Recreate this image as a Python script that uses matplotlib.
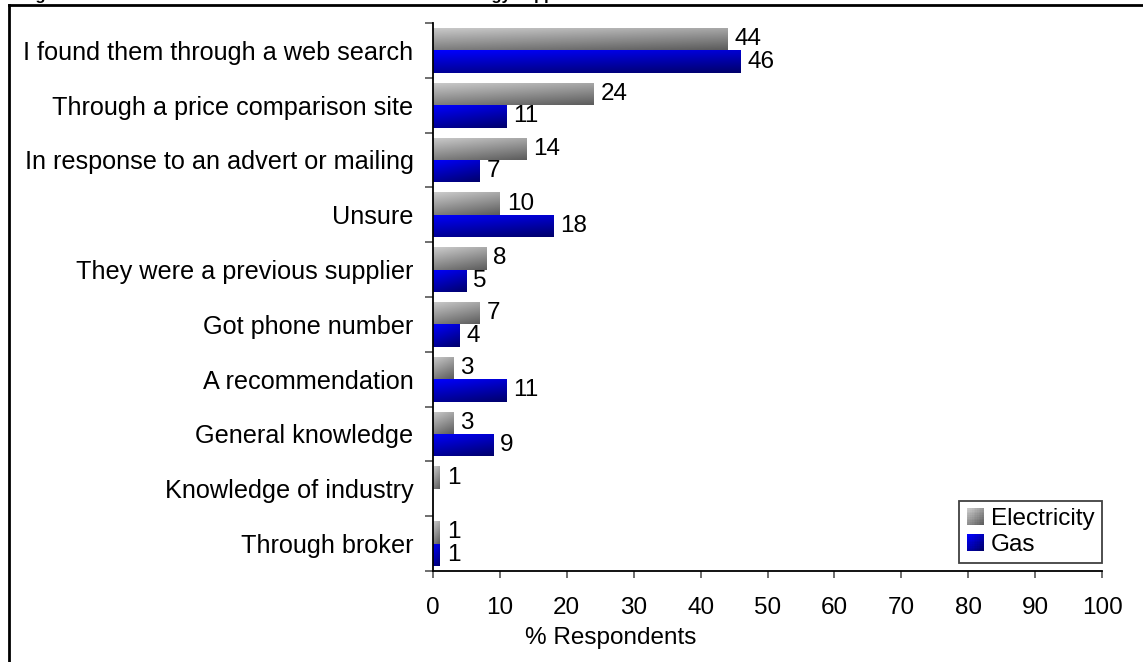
import numpy as np
import matplotlib
matplotlib.use("Agg")
import matplotlib.pyplot as plt
from matplotlib.lines import Line2D
from matplotlib.patches import Rectangle, Patch
from matplotlib.legend_handler import HandlerBase

plt.rcParams["font.family"] = ["Liberation Sans", "DejaVu Sans"]

categories = [
    "I found them through a web search",
    "Through a price comparison site",
    "In response to an advert or mailing",
    "Unsure",
    "They were a previous supplier",
    "Got phone number",
    "A recommendation",
    "General knowledge",
    "Knowledge of industry",
    "Through broker",
]
electricity = [44, 24, 14, 10, 8, 7, 3, 3, 1, 1]
gas = [46, 11, 7, 18, 5, 4, 11, 9, None, 1]
series_names = ["Electricity", "Gas"]
x_ticks = list(range(0, 101, 10))
x_title = "% Respondents"
title = "Figure 11: How SMEs found out about their most recent energy supplier"

GREY = ((0.80, 0.80, 0.80), (0.36, 0.36, 0.36))
BLUE = ((0.0, 0.0, 1.0), (0.0, 0.0, 0.42))
FS = 17.5
FS_CAT = 18.2


def gradient(c0, c1, nx=64, ny=32, wx=0.3, wy=0.7):
    u = np.linspace(0, 1, nx)[None, :]
    v = np.linspace(0, 1, ny)[:, None]
    t = wx * u + wy * v
    c0 = np.array(c0)[None, None, :]
    c1 = np.array(c1)[None, None, :]
    return c0 + (c1 - c0) * t[..., None]


class GradientSquare(HandlerBase):
    def __init__(self, c0, c1, n=10):
        super().__init__()
        self.c0, self.c1, self.n = np.array(c0), np.array(c1), n

    def create_artists(self, legend, orig_handle, xdescent, ydescent,
                       width, height, fontsize, trans):
        s = min(width, height)
        x0 = -xdescent + (width - s) / 2
        y0 = -ydescent + (height - s) / 2
        step = s / self.n
        arts = []
        for i in range(self.n):
            for j in range(self.n):
                t = 0.45 * i / (self.n - 1) + 0.55 * j / (self.n - 1)
                col = self.c0 + (self.c1 - self.c0) * t
                arts.append(Rectangle((x0 + i * step, y0 + s - (j + 1) * step),
                                      step * 1.02, step * 1.02, facecolor=col,
                                      edgecolor="none", transform=trans))
        return arts


fig = plt.figure(figsize=(11.43, 6.62), dpi=100)
ax = fig.add_axes([433 / 1143, 1 - 571 / 662, (1102 - 433) / 1143, (571 - 23) / 662])

pos = np.arange(len(categories))
h = 0.41
off = 0.205

for series, colors, shift in ((electricity, GREY, -off), (gas, BLUE, off)):
    for p, val in zip(pos, series):
        if val is None:
            continue
        c = p + shift
        bar = ax.barh(c, val, height=h, color="none", edgecolor="none")[0]
        im = ax.imshow(gradient(*colors), extent=(0, val, c + h / 2, c - h / 2),
                       aspect="auto", interpolation="bilinear", zorder=2)
        im.set_clip_path(bar)
        ax.annotate(f"{val:g}", (val, c), xytext=(5, 0), textcoords="offset points",
                    ha="left", va="center", fontsize=FS, color="black")

ax.set_xlim(0, 100)
ax.set_ylim(len(categories) - 0.5, -0.5)

ax.set_xticks(x_ticks)
ax.set_xticklabels([str(t) for t in x_ticks], fontsize=FS)
ax.tick_params(axis="x", direction="out", length=5, width=1.2, color="#555555", pad=14)

ax.set_yticks(np.arange(-0.5, len(categories), 1.0))
ax.set_yticklabels([])
ax.tick_params(axis="y", which="major", direction="out", length=6, width=1.2, color="#555555")
ax.set_yticks(pos, minor=True)
ax.set_yticklabels(categories, minor=True, fontsize=FS_CAT)
ax.tick_params(axis="y", which="minor", length=0, pad=14)

for side in ("top", "right"):
    ax.spines[side].set_visible(False)
for side in ("left", "bottom"):
    ax.spines[side].set_linewidth(1.3)
    ax.spines[side].set_color("black")

ax.set_xlabel(x_title, fontsize=FS)
ax.xaxis.set_label_coords(0.265, -0.102)

handles = [Patch(label=series_names[0]), Patch(label=series_names[1])]
leg = ax.legend(handles=handles, loc="lower right", bbox_to_anchor=(1.0, 0.014),
                borderaxespad=0, fontsize=FS, frameon=True, fancybox=False,
                framealpha=1, edgecolor="#404040", handlelength=0.7,
                handleheight=0.7, handletextpad=0.3, borderpad=0.3,
                labelspacing=0.15,
                handler_map={handles[0]: GradientSquare(*GREY),
                             handles[1]: GradientSquare(*BLUE)})
leg.get_frame().set_linewidth(1.3)

# outer frame (left and top edges)
fig.add_artist(Line2D([9 / 1143, 9 / 1143], [1 - 5 / 662, 0], transform=fig.transFigure,
                      color="black", linewidth=2.0))
fig.add_artist(Line2D([9 / 1143, 1], [1 - 5 / 662, 1 - 5 / 662], transform=fig.transFigure,
                      color="black", linewidth=2.0))

fig.text(21 / 1143, 1.0, title, ha="left", va="baseline", fontsize=11.8,
         fontweight="bold", color="black")

fig.savefig("out.png", dpi=100)
